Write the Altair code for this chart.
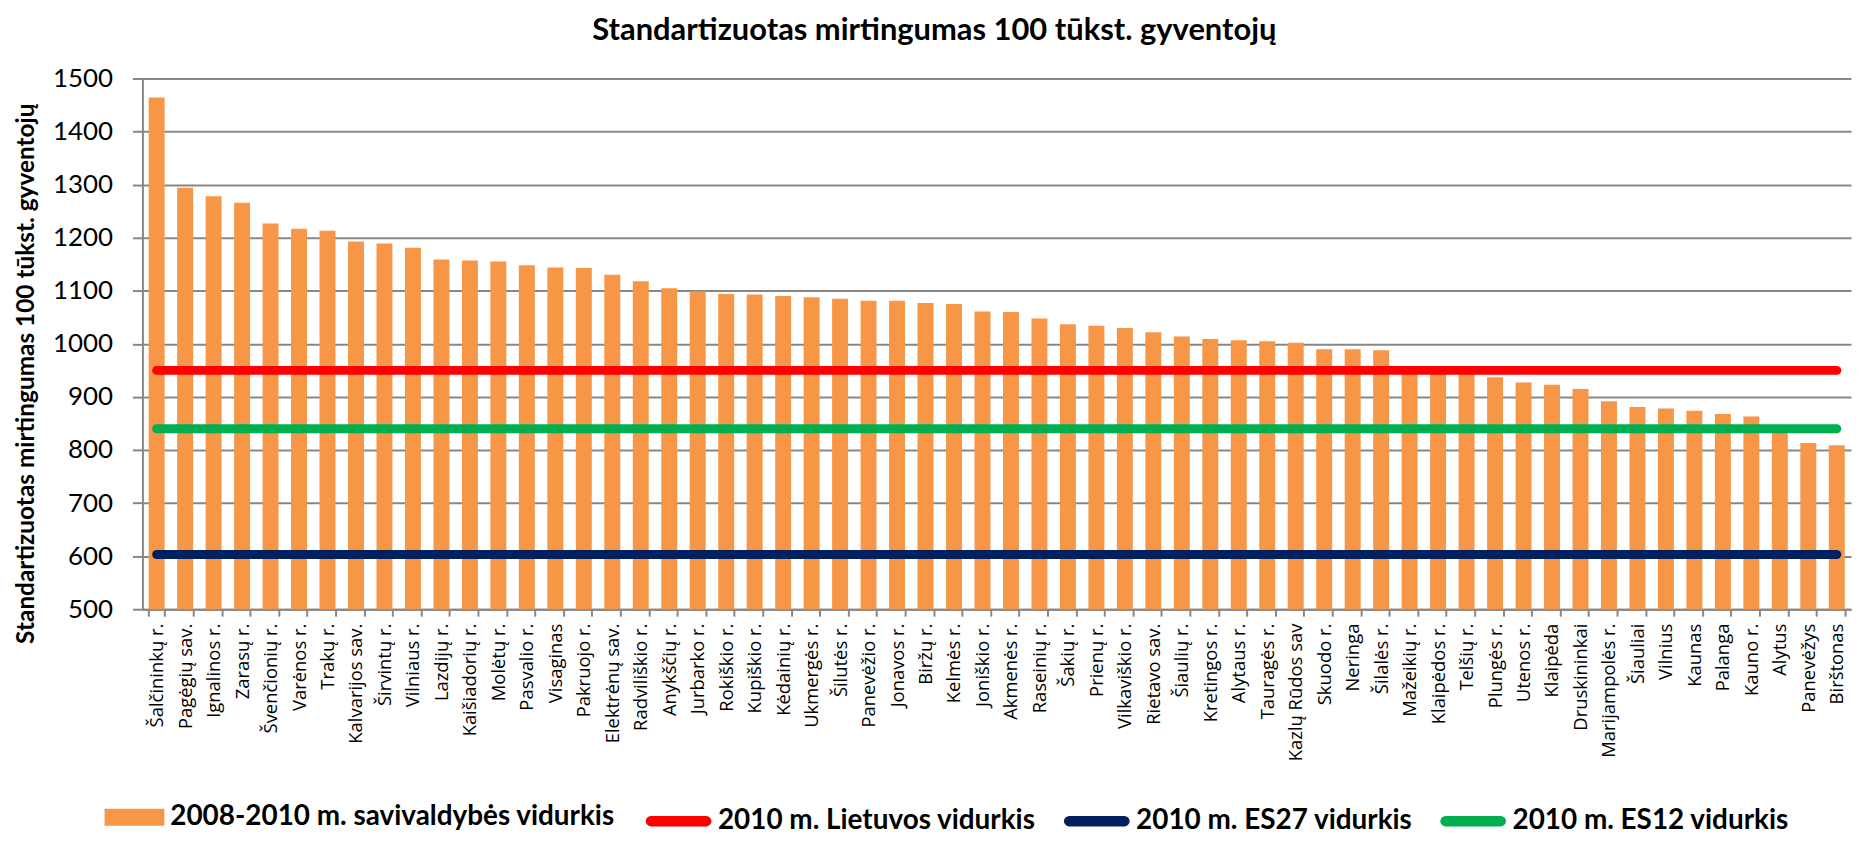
import altair as alt
import pandas as pd

# ---------------- data ----------------
categories = [
    "Šalčininkų r.", "Pagėgių sav.", "Ignalinos r.", "Zarasų r.", "Švenčionių r.",
    "Varėnos r.", "Trakų r.", "Kalvarijos sav.", "Širvintų r.", "Vilniaus r.",
    "Lazdijų r.", "Kaišiadorių r.", "Molėtų r.", "Pasvalio r.", "Visaginas",
    "Pakruojo r.", "Elektrėnų sav.", "Radviliškio r.", "Anykščių r.", "Jurbarko r.",
    "Rokiškio r.", "Kupiškio r.", "Kėdainių r.", "Ukmergės r.", "Šilutės r.",
    "Panevėžio r.", "Jonavos r.", "Biržų r.", "Kelmės r.", "Joniškio r.",
    "Akmenės r.", "Raseinių r.", "Šakių r.", "Prienų r.", "Vilkaviškio r.",
    "Rietavo sav.", "Šiaulių r.", "Kretingos r.", "Alytaus r.", "Tauragės r.",
    "Kazlų Rūdos sav", "Skuodo r.", "Neringa", "Šilalės r.", "Mažeikių r.",
    "Klaipėdos r.", "Telšių r.", "Plungės r.", "Utenos r.", "Klaipėda",
    "Druskininkai", "Marijampolės r.", "Šiauliai", "Vilnius", "Kaunas",
    "Palanga", "Kauno r.", "Alytus", "Panevėžys", "Birštonas",
]
values = [
    1464, 1294, 1278, 1266, 1227,
    1217, 1213, 1193, 1189, 1181,
    1159, 1157, 1155, 1148, 1144,
    1143, 1130, 1118, 1105, 1099,
    1094, 1093, 1090, 1088, 1085,
    1081, 1081, 1077, 1075, 1061,
    1060, 1048, 1037, 1034, 1030,
    1022, 1014, 1009, 1007, 1005,
    1002, 990, 990, 988, 950,
    948, 946, 937, 927, 923,
    915, 892, 881, 878, 874,
    868, 863, 840, 813, 809,
]

bar_series = ["2008-2010 m. savivaldybės vidurkis"]
bar_color = ["#F79646"]
line_series = [
    "2010 m. Lietuvos vidurkis",
    "2010 m. ES27 vidurkis",
    "2010 m. ES12 vidurkis",
]
line_colors = ["#FF0000", "#002060", "#00B050"]
reference_values = [950, 603, 840]  # Lietuvos, ES27, ES12

chart_title = "Standartizuotas mirtingumas 100 tūkst. gyventojų"
y_title = "Standartizuotas mirtingumas 100 tūkst. gyventojų"
y_ticks = [500, 600, 700, 800, 900, 1000, 1100, 1200, 1300, 1400, 1500]

# ---------------- tables ----------------
bars_df = pd.DataFrame({
    "savivaldybe": categories,
    "reiksme": values,
    "serija": bar_series * len(categories),
})

line_rows = []
for name, val in zip(line_series, reference_values):
    line_rows.append({"savivaldybe": categories[0], "reiksme": val, "serija": name})
    line_rows.append({"savivaldybe": categories[-1], "reiksme": val, "serija": name})
lines_df = pd.DataFrame(line_rows)

FONT = "Lato"
GRAY = "#878787"
# legend symbol shapes (unit = 15 px when symbolSize = 900)
rect_path = "M-2,-0.57H2V0.57H-2Z"
capsule_path = "M-1.85,-0.05H1.85A0.05,0.05,0,0,1,1.85,0.05H-1.85A0.05,0.05,0,0,1,-1.85,-0.05Z"

legend_common = dict(
    title=None,
    orient="none",
    direction="horizontal",
    labelFont=FONT,
    labelFontSize=28,
    labelFontWeight="bold",
    labelColor="black",
    labelLimit=0,
    labelOffset=20,
    symbolOffset=15,
    columnPadding=14,
    symbolSize=900,
    padding=0,
)

x_enc = alt.X(
    "savivaldybe:N",
    sort=categories,
    scale=alt.Scale(paddingInner=0.44, paddingOuter=0.22),
    axis=alt.Axis(
        title=None,
        labelAngle=-90,
        labelFont="Open Sans",
        labelFontSize=18.5,
        labelColor="black",
        labelPadding=7,
        labelLimit=0,
        tickSize=7,
        tickWidth=2,
        tickColor=GRAY,
        tickBand="extent",
        domainColor=GRAY,
        domainWidth=2,
        grid=False,
    ),
)

y_scale = alt.Scale(domain=[500, 1500], zero=False, nice=False)

bars = alt.Chart(bars_df).mark_bar().encode(
    x=x_enc,
    y=alt.Y(
        "reiksme:Q",
        scale=y_scale,
        axis=alt.Axis(
            title=y_title,
            values=y_ticks,
            format="d",
            titleFont=FONT,
            titleFontSize=24.5,
            titleFontWeight="bold",
            titleColor="black",
            titleAngle=270,
            titleAlign="center",
            titleBaseline="middle",
            titleX=-116,
            titleY=296,
            labelFont=FONT,
            labelFontSize=26,
            labelColor="black",
            labelPadding=20,
            tickSize=10,
            tickWidth=2,
            tickColor=GRAY,
            domainColor=GRAY,
            domainWidth=2,
            grid=True,
            gridColor=GRAY,
            gridWidth=2,
        ),
    ),
    y2=alt.datum(500),
    fill=alt.Fill(
        "serija:N",
        scale=alt.Scale(domain=bar_series, range=bar_color),
        legend=alt.Legend(symbolType=rect_path, legendX=-39, legendY=726, **legend_common),
    ),
)

lines = alt.Chart(lines_df).mark_line(strokeWidth=9, strokeCap="round").encode(
    x=alt.X("savivaldybe:N", sort=categories),
    y=alt.Y("reiksme:Q", scale=y_scale),
    stroke=alt.Stroke(
        "serija:N",
        sort=line_series,
        scale=alt.Scale(domain=line_series, range=line_colors),
        legend=alt.Legend(symbolType=capsule_path, symbolStrokeWidth=9,
                          legendX=504, legendY=726, **legend_common),
    ),
    detail="serija:N",
)

chart = alt.layer(bars, lines).properties(
    width=1716,
    height=533,
    padding={"left": 5, "top": 5, "right": 0, "bottom": 0},
    title=alt.Title(
        chart_title,
        font=FONT,
        fontSize=31,
        fontWeight="bold",
        color="black",
        anchor="middle",
        frame="bounds",
        offset=19,
    ),
).configure_view(strokeWidth=0)

chart.save("out.html", embed_options={"renderer": "svg", "actions": False})
